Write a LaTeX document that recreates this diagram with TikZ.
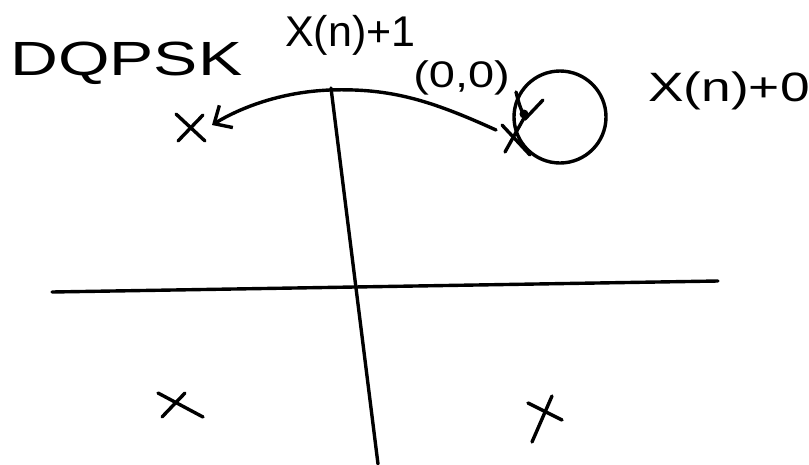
\documentclass[tikz,border=0pt]{standalone}
\usepackage{fontspec}
\setmainfont{Liberation Sans}
\usetikzlibrary{arrows.meta}
\tikzset{
  ink/.style={line width=3.4pt, line cap=round, line join=round, black},
  lbl/.style={inner sep=0pt, anchor=west, text=black, transform shape},
}
\begin{document}
\begin{tikzpicture}[x=1pt,y=-1pt]
\useasboundingbox (0,0) rectangle (809,464);
\fill[white] (0,0) rectangle (809,464);
% axes
\coordinate (vtop) at (331,88);
\coordinate (vbot) at (378,464);
\coordinate (hl) at (52,292);
\coordinate (hr) at (718,281);
\draw[ink] (vtop) -- (vbot);
\draw[ink] (hl) -- (hr);
% labels
\node[lbl, font=\fontsize{48}{48}\selectfont, xscale=1.38] (dqpsk) at (10,63) {DQPSK};
\node[lbl, font=\fontsize{43}{43}\selectfont] (x1) at (285,35) {X(n)+1};
\node[lbl, font=\fontsize{37}{37}\selectfont, xscale=1.27] (org) at (413,78) {(0,0)};
\node[lbl, font=\fontsize{41}{41}\selectfont, xscale=1.3] (x0) at (648,91) {X(n)+0};
% crosses
\draw[ink] (176,114) -- (205,141);
\draw[ink] (178,141) -- (203,115);
\draw[ink] (502,125) -- (530,155);
\draw[ink] (505,152) -- (524,118);
\draw[ink] (158,393) -- (203,417);
\draw[ink] (185,393) -- (162,417);
\draw[ink] (552,396) -- (532,442);
\draw[ink] (528,403) -- (562,420);
% loop at (0,0)
\node[circle, draw, line width=3.4pt, minimum size=92pt, inner sep=0pt] (loop) at (560,117) {};
% small arrow into the origin cross
\coordinate (sa) at (516,92);
\coordinate (sb) at (525,119);
\draw[ink] (sa) .. controls (519,104) .. (sb);
\draw[ink] (543,100) -- (sb);
\fill (sb) ++(-1,-5) circle (4.5pt);
% main arrow
\coordinate (arrstart) at (496,130);
\coordinate (peak) at (330,90);
\coordinate (tip) at (212,125);
\draw[ink, -{Straight Barb[length=14pt,width=26pt,line width=3.4pt]}] (arrstart) .. controls (430,100) and (390,88) .. (peak) .. controls (280,92) and (240,108) .. (tip);
\end{tikzpicture}
\end{document}
